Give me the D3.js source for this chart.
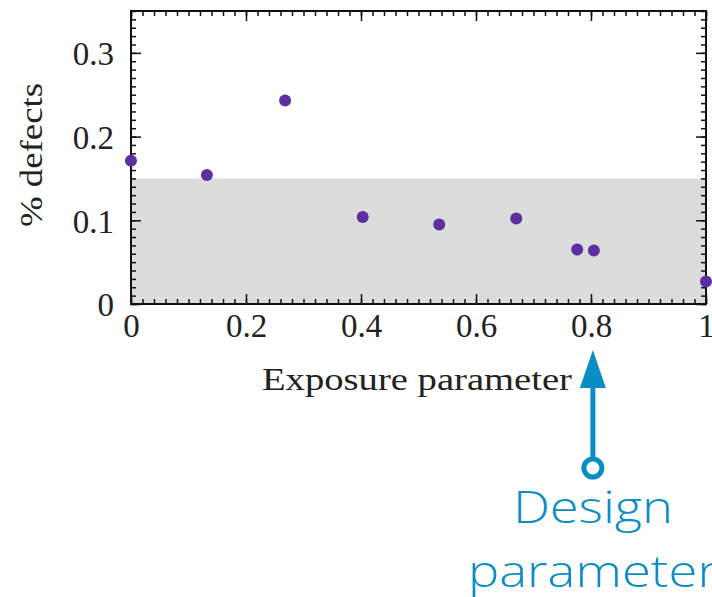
<!DOCTYPE html>
<html>
<head>
<meta charset="utf-8">
<script src="https://cdn.jsdelivr.net/npm/d3@7/dist/d3.min.js"></script>
<style>
  html, body { margin: 0; padding: 0; background: #fff; }
  svg { display: block; }
</style>
</head>
<body>
<div id="chart"></div>
<script>
// data
const exposure = [0.0, 0.132, 0.268, 0.403, 0.536, 0.670, 0.776, 0.805, 1.0];
const defects = [0.171, 0.154, 0.243, 0.104, 0.095, 0.102, 0.065, 0.064, 0.027];
const xTicks = [0, 0.2, 0.4, 0.6, 0.8, 1];
const yTicks = [0, 0.1, 0.2, 0.3];
const bandTop = 0.15;
const designValue = 0.805;

const W = 712, H = 597;
const margin = {top: 11, right: 6, bottom: 293, left: 131};
const iw = W - margin.left - margin.right;
const ih = H - margin.top - margin.bottom;

const svg = d3.select('#chart').append('svg')
  .attr('width', W).attr('height', H)
  .attr('viewBox', `0,0,${W},${H}`);

const g = svg.append('g').attr('transform', `translate(${margin.left},${margin.top})`);

const x = d3.scaleLinear().domain([0, 1]).range([0, iw]);
const y = d3.scaleLinear().domain([0, 0.35]).range([ih, 0]);

// shaded band
g.append('rect')
  .attr('x', x(0)).attr('width', x(1) - x(0))
  .attr('y', y(bandTop)).attr('height', y(0) - y(bandTop))
  .attr('fill', '#dcdcdc');

const serif = '"Liberation Serif", "DejaVu Serif", serif';

// inward ticks on all four sides
const xMinor = d3.range(0, 1.0001, 0.02);
const yMinor = d3.range(0, 0.3501, 0.01);
const tickStyle = sel => {
  sel.select('.domain').remove();
  sel.selectAll('line').attr('stroke', '#111').attr('stroke-width', 1.5);
};

g.append('g').attr('transform', `translate(0,${ih})`)
  .call(d3.axisTop(x).tickValues(xMinor).tickSize(5).tickFormat(''))
  .call(tickStyle);
g.append('g').attr('transform', `translate(0,${ih})`)
  .call(d3.axisTop(x).tickValues(xTicks).tickSize(10).tickFormat(''))
  .call(tickStyle);
g.append('g')
  .call(d3.axisBottom(x).tickValues(xMinor).tickSize(5).tickFormat(''))
  .call(tickStyle);
g.append('g')
  .call(d3.axisBottom(x).tickValues(xTicks).tickSize(10).tickFormat(''))
  .call(tickStyle);
g.append('g')
  .call(d3.axisRight(y).tickValues(yMinor).tickSize(5).tickFormat(''))
  .call(tickStyle);
g.append('g')
  .call(d3.axisRight(y).tickValues(yTicks).tickSize(10).tickFormat(''))
  .call(tickStyle);
g.append('g').attr('transform', `translate(${iw},0)`)
  .call(d3.axisLeft(y).tickValues(yMinor).tickSize(5).tickFormat(''))
  .call(tickStyle);
g.append('g').attr('transform', `translate(${iw},0)`)
  .call(d3.axisLeft(y).tickValues(yTicks).tickSize(10).tickFormat(''))
  .call(tickStyle);

// tick labels
const fmt = d => d === 0 ? '0' : d === 1 ? '1' : d3.format('.1f')(d);

const xLab = g.append('g').attr('transform', `translate(0,${ih})`)
  .call(d3.axisBottom(x).tickValues(xTicks).tickSize(0).tickPadding(10).tickFormat(fmt));
xLab.select('.domain').remove();
xLab.selectAll('text').attr('font-family', serif).attr('font-size', 33)
  .attr('fill', '#222').attr('dy', '0.71em');

const yLab = g.append('g')
  .call(d3.axisLeft(y).tickValues(yTicks).tickSize(0).tickPadding(17).tickFormat(fmt));
yLab.select('.domain').remove();
yLab.selectAll('text').attr('font-family', serif).attr('font-size', 33)
  .attr('fill', '#222').attr('dy', '0.36em');

// frame
g.append('rect')
  .attr('width', iw).attr('height', ih)
  .attr('fill', 'none').attr('stroke', '#111').attr('stroke-width', 2);

// points
g.append('g').selectAll('circle')
  .data(exposure)
  .join('circle')
  .attr('cx', (d, i) => x(d))
  .attr('cy', (d, i) => y(defects[i]))
  .attr('r', 6)
  .attr('fill', '#5b2fa0');

// axis titles
svg.append('text')
  .attr('x', 417).attr('y', 390)
  .attr('text-anchor', 'middle')
  .attr('font-family', serif).attr('font-size', 31).attr('fill', '#222')
  .attr('textLength', 310).attr('lengthAdjust', 'spacingAndGlyphs')
  .text('Exposure parameter');

svg.append('text')
  .attr('transform', `translate(42,${margin.top + y(0.178)}) rotate(-90)`)
  .attr('text-anchor', 'middle')
  .attr('font-family', serif).attr('font-size', 31).attr('fill', '#222')
  .attr('textLength', 144).attr('lengthAdjust', 'spacingAndGlyphs')
  .text('% defects');

// design parameter annotation
const blue = '#0a8dc4';
const ax = margin.left + x(designValue) - 1;
const ann = svg.append('g');
ann.append('path')
  .attr('d', `M${ax},350 L${ax - 13},388 L${ax + 13},388 Z`)
  .attr('fill', blue);
ann.append('line')
  .attr('x1', ax).attr('x2', ax).attr('y1', 386).attr('y2', 459)
  .attr('stroke', blue).attr('stroke-width', 5);
ann.append('circle')
  .attr('cx', ax).attr('cy', 468).attr('r', 9)
  .attr('fill', '#fff').attr('stroke', blue).attr('stroke-width', 5);

const sans = '"Open Sans", "Noto Sans", sans-serif';
ann.append('text')
  .attr('x', ax).attr('y', 523).attr('text-anchor', 'middle')
  .attr('font-family', sans).attr('font-weight', 300).attr('font-size', 44)
  .attr('textLength', 160).attr('lengthAdjust', 'spacingAndGlyphs')
  .attr('fill', blue).text('Design');
ann.append('text')
  .attr('x', ax).attr('y', 587).attr('text-anchor', 'middle')
  .attr('font-family', sans).attr('font-weight', 300).attr('font-size', 44)
  .attr('textLength', 250).attr('lengthAdjust', 'spacingAndGlyphs')
  .attr('fill', blue).text('parameter');
</script>
</body>
</html>
